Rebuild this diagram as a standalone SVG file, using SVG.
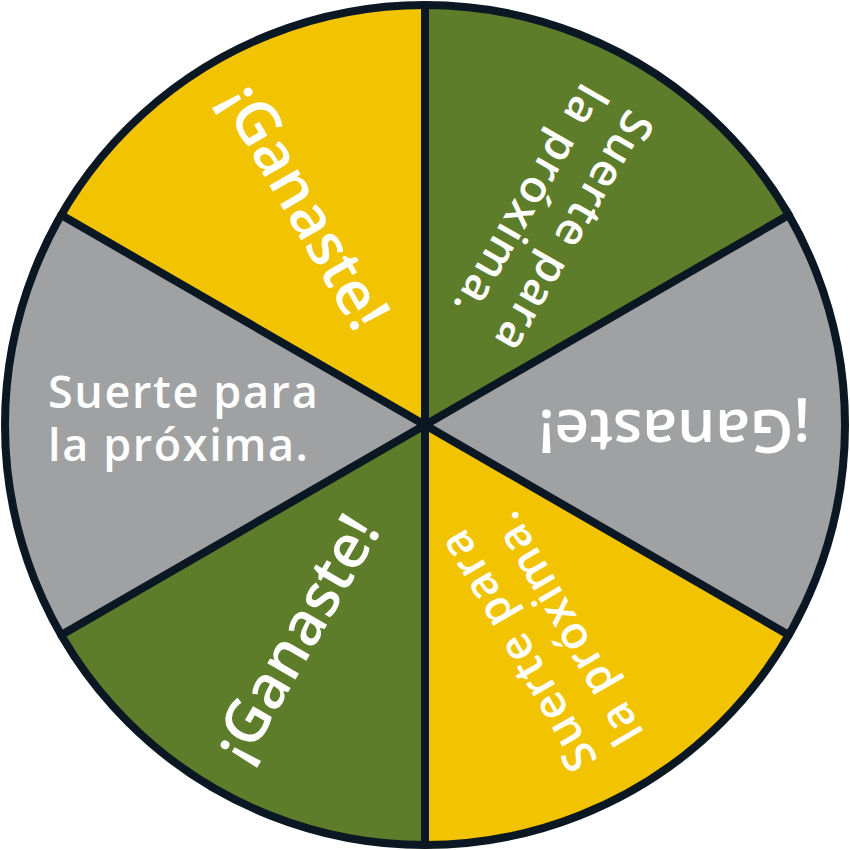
<svg xmlns="http://www.w3.org/2000/svg" width="850" height="850" viewBox="0 0 850 850">
<style>
.green{fill:#5E7D2B}
.gray{fill:#9FA1A3}
.yellow{fill:#F2C300}
.lbl{font-family:"Open Sans","Noto Sans",sans-serif;fill:#FFFFFF;font-weight:600}
.small{font-size:45px;letter-spacing:1.6px}
.big{font-size:60px}
.line{stroke:#0B1722;stroke-width:8;fill:none;stroke-linecap:round}
</style>
<g id="sector-top-right">
<path class="green" d="M425,425 L425,5 A420,420 0 0 1 788.73,215 Z"/>
<text class="lbl small" transform="rotate(120 425 425)"><tspan x="48" y="408">Suerte para</tspan><tspan x="48" y="461">la próxima.</tspan></text>
</g>
<g id="sector-right">
<path class="gray" d="M425,425 L788.73,215 A420,420 0 0 1 788.73,635 Z"/>
<text class="lbl big" x="40" y="440" transform="rotate(180 425 425)">¡Ganaste!</text>
</g>
<g id="sector-bottom-right">
<path class="yellow" d="M425,425 L788.73,635 A420,420 0 0 1 425,845 Z"/>
<text class="lbl small" transform="rotate(240 425 425)"><tspan x="48" y="408">Suerte para</tspan><tspan x="48" y="461">la próxima.</tspan></text>
</g>
<g id="sector-bottom-left">
<path class="green" d="M425,425 L425,845 A420,420 0 0 1 61.27,635 Z"/>
<text class="lbl big" x="40" y="440" transform="rotate(300 425 425)">¡Ganaste!</text>
</g>
<g id="sector-left">
<path class="gray" d="M425,425 L61.27,635 A420,420 0 0 1 61.27,215 Z"/>
<text class="lbl small"><tspan x="48" y="408">Suerte para</tspan><tspan x="48" y="461">la próxima.</tspan></text>
</g>
<g id="sector-top-left">
<path class="yellow" d="M425,425 L61.27,215 A420,420 0 0 1 425,5 Z"/>
<text class="lbl big" x="40" y="440" transform="rotate(60 425 425)">¡Ganaste!</text>
</g>
<g id="connectors">
<line class="line" x1="425" y1="425" x2="425" y2="5"/>
<line class="line" x1="425" y1="425" x2="788.73" y2="215"/>
<line class="line" x1="425" y1="425" x2="788.73" y2="635"/>
<line class="line" x1="425" y1="425" x2="425" y2="845"/>
<line class="line" x1="425" y1="425" x2="61.27" y2="635"/>
<line class="line" x1="425" y1="425" x2="61.27" y2="215"/>
<circle class="line" cx="425" cy="425" r="420"/>
</g>
</svg>
